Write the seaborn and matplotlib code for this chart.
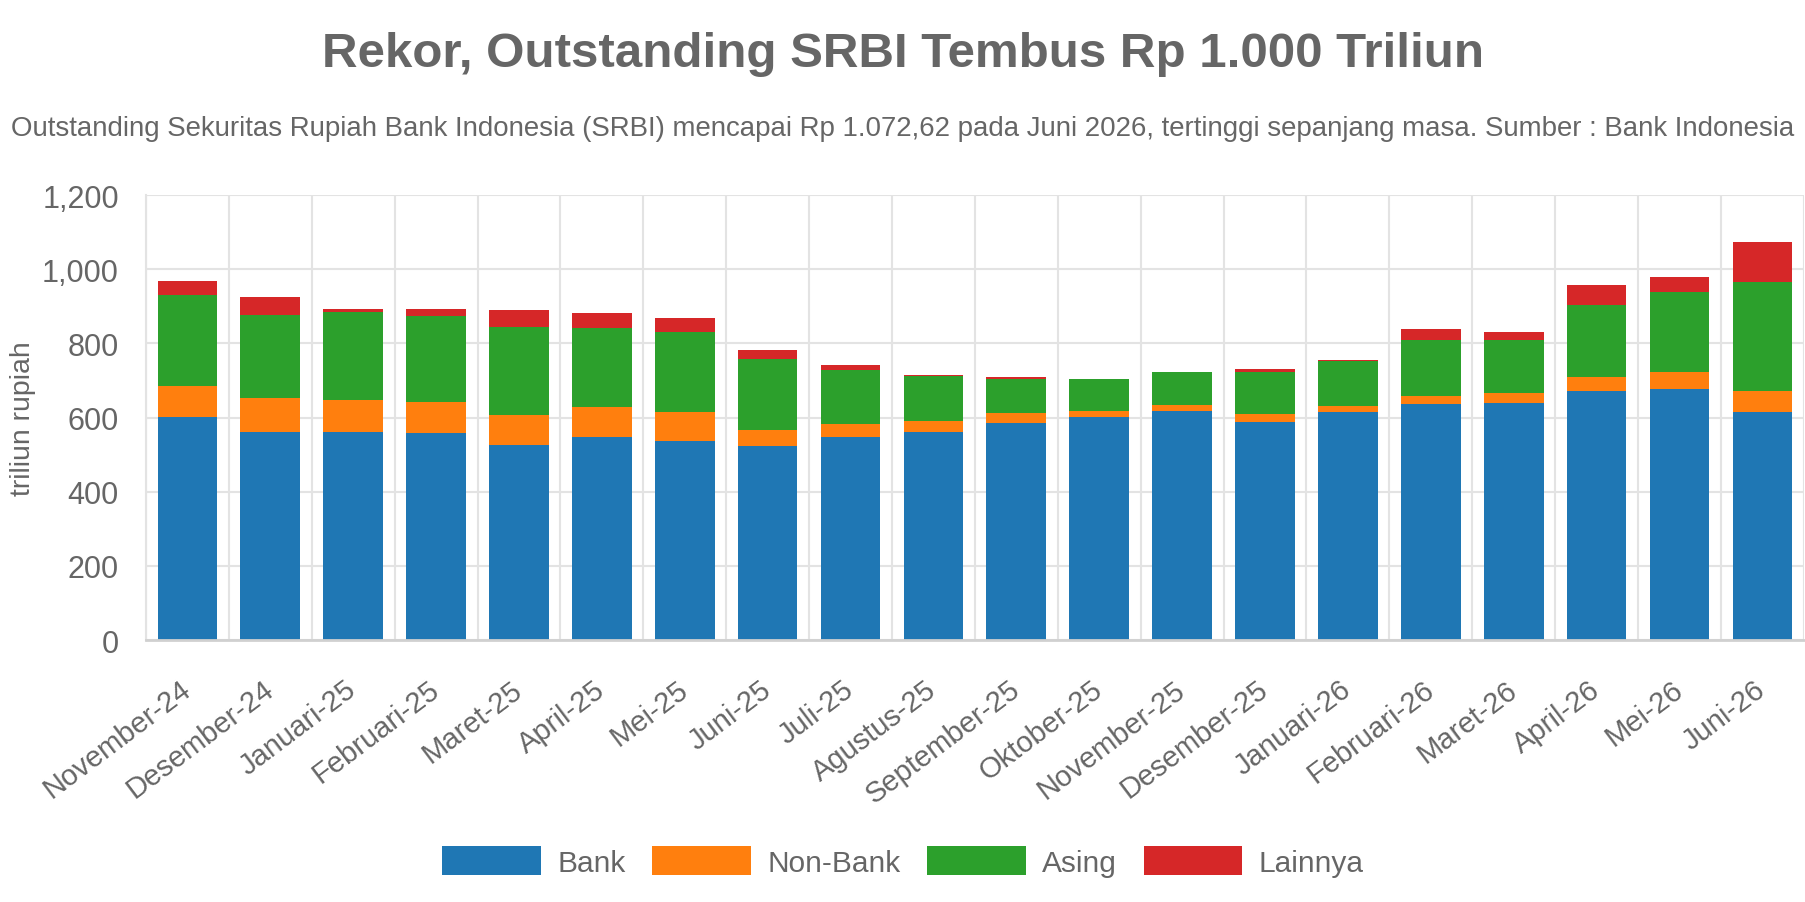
import numpy as np
import pandas as pd
import matplotlib
matplotlib.use("Agg")
import matplotlib.pyplot as plt
import seaborn as sns
from matplotlib.patches import Patch
from matplotlib.ticker import StrMethodFormatter

# data (triliun rupiah)
months = ["November-24", "Desember-24", "Januari-25", "Februari-25", "Maret-25",
          "April-25", "Mei-25", "Juni-25", "Juli-25", "Agustus-25", "September-25",
          "Oktober-25", "November-25", "Desember-25", "Januari-26", "Februari-26",
          "Maret-26", "April-26", "Mei-26", "Juni-26"]
bank = [601, 560, 562, 559, 526, 548, 538, 522, 548, 562,
        586, 601, 618, 588, 614, 636, 638, 672, 677, 615]
non_bank = [85, 92, 85, 83, 82, 80, 78, 45, 35, 28,
            26, 16, 17, 21, 16, 21, 27, 37, 45, 57]
asing = [244, 225, 237, 231, 235, 213, 214, 191, 146, 121,
         92, 88, 88, 115, 123, 151, 144, 194, 216, 294]
lainnya = [39, 47, 10, 20, 48, 41, 38, 25, 12, 4,
           5, 0, 1, 6, 2, 30, 23, 54, 42, 107]

series = ["Bank", "Non-Bank", "Asing", "Lainnya"]
colors = {"Bank": "#1f77b4", "Non-Bank": "#ff7f0e", "Asing": "#2ca02c", "Lainnya": "#d62728"}

TEXT = "#666666"
GRID = "#e3e3e3"

sns.set_theme(style="white")
plt.rcParams["font.family"] = ["Liberation Sans", "DejaVu Sans"]

df = pd.DataFrame({"bulan": months, "Bank": bank, "Non-Bank": non_bank,
                   "Asing": asing, "Lainnya": lainnya})
# cumulative tops for stacking
cum = df[series].cumsum(axis=1)

fig = plt.figure(figsize=(18.06, 9.03), dpi=100)
ax = fig.add_axes([0.0808, 0.2901, 0.918, 0.4928])
ax.set_axisbelow(True)

# draw tallest layer first so lower segments sit on top of it
for name in reversed(series):
    sns.barplot(x=df["bulan"], y=cum[name], order=months, color=colors[name],
                saturation=1, width=0.72, linewidth=0, ax=ax)

ax.set_ylim(0, 1200)
ax.set_xlim(-0.5, len(months) - 0.5)
ax.set_yticks(np.arange(0, 1201, 200))
ax.yaxis.set_major_formatter(StrMethodFormatter("{x:,.0f}"))

# chart.js style: vertical grid between categories
ax.set_xticks(np.arange(-0.5, len(months), 1), minor=True)
ax.grid(axis="y", which="major", color=GRID, linewidth=1.5)
ax.grid(axis="x", which="minor", color=GRID, linewidth=1.5)
ax.tick_params(axis="x", which="major", length=0, pad=33)
ax.tick_params(axis="x", which="minor", length=14.4, width=1.5, color=GRID)
ax.tick_params(axis="y", length=14.4, width=1.5, color=GRID, pad=5,
               labelsize=22, labelcolor=TEXT)
ax.set_xticklabels(months, rotation=37, ha="right", va="center",
                   rotation_mode="anchor", fontsize=21, color=TEXT)

for side in ["top", "right"]:
    ax.spines[side].set_visible(False)
ax.spines["left"].set_color(GRID)
ax.spines["left"].set_linewidth(1.5)
ax.spines["bottom"].set_color("#d0d0d0")
ax.spines["bottom"].set_linewidth(2)

ax.set_xlabel("")
ax.set_ylabel("")
fig.text(0.0125, 0.5365, "triliun rupiah", rotation=90, ha="center", va="center",
         fontsize=20.5, color=TEXT)

fig.text(0.5, 0.940, "Rekor, Outstanding SRBI Tembus Rp 1.000 Triliun",
         ha="center", va="center", fontsize=35.5, fontweight="bold", color=TEXT)
fig.text(0.5, 0.857, "Outstanding Sekuritas Rupiah Bank Indonesia (SRBI) mencapai Rp 1.072,62 "
         "pada Juni 2026, tertinggi sepanjang masa. Sumber : Bank Indonesia",
         ha="center", va="center", fontsize=19.9, color=TEXT)

handles = [Patch(facecolor=colors[s], edgecolor="none", label=s) for s in series]
fig.legend(handles=handles, loc="center", bbox_to_anchor=(0.5, 0.045), ncol=4,
           frameon=False, fontsize=21.5, labelcolor=TEXT, handlelength=3.3,
           handleheight=1.1, handletextpad=0.55, columnspacing=0.9)

fig.savefig("out.png", dpi=100)
